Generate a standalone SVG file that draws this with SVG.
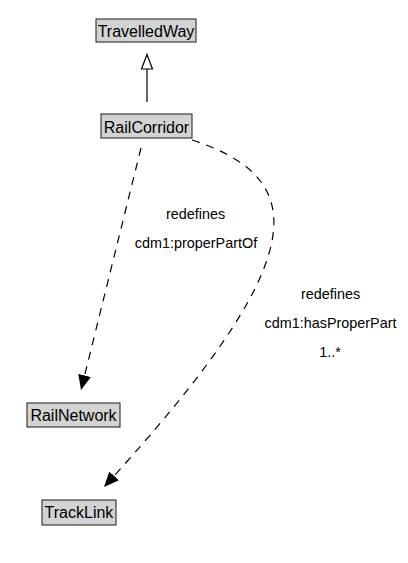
<svg xmlns="http://www.w3.org/2000/svg" width="408" height="563" viewBox="0 0 408 563">
<style>
  .box { fill: #d3d3d3; stroke: #1a1a1a; stroke-width: 1; }
  .name { font-family: "Liberation Sans", Arial, sans-serif; font-size: 16px; fill: #000; text-anchor: middle; }
  .lbl { font-family: "Liberation Sans", Arial, sans-serif; font-size: 14.4px; fill: #000; text-anchor: middle; }
  .dash { fill: none; stroke: #000; stroke-width: 1.2; stroke-dasharray: 8 7; }
  .solid { fill: none; stroke: #000; stroke-width: 1.2; }
</style>
<defs>
  <marker id="filled" markerUnits="userSpaceOnUse" markerWidth="17" markerHeight="14" refX="15" refY="6.5" orient="auto">
    <path d="M0,0 L15,6.5 L0,13 z" fill="#000"/>
  </marker>
</defs>
<rect width="408" height="563" fill="#fff"/>
<g id="connectors">
  <path class="solid" d="M147,102 L147,69"/>
  <path d="M147,54.5 L152.5,69 L141.5,69 z" fill="#fff" stroke="#000" stroke-width="1.2"/>
  <path class="dash" d="M141,148 L81,390" marker-end="url(#filled)"/>
  <path class="dash" d="M192,140 C315,180 310,262 104,487" marker-end="url(#filled)"/>
  <text class="lbl" x="195.5" y="218.5">redefines</text>
  <text class="lbl" x="196" y="247.5">cdm1:properPartOf</text>
  <text class="lbl" x="330.5" y="299">redefines</text>
  <text class="lbl" x="330.5" y="328">cdm1:hasProperPart</text>
  <text class="lbl" x="330" y="357">1..*</text>
</g>
<g id="TravelledWay">
  <rect class="box" x="96" y="19" width="100" height="23"/>
  <text class="name" x="146" y="36.5">TravelledWay</text>
</g>
<g id="RailCorridor">
  <rect class="box" x="101" y="114" width="91" height="24"/>
  <text class="name" x="146.5" y="132.5">RailCorridor</text>
</g>
<g id="RailNetwork">
  <rect class="box" x="27" y="403" width="93" height="24"/>
  <text class="name" x="73.5" y="421">RailNetwork</text>
</g>
<g id="TrackLink">
  <rect class="box" x="42" y="500" width="74" height="25"/>
  <text class="name" x="79" y="518">TrackLink</text>
</g>
</svg>
